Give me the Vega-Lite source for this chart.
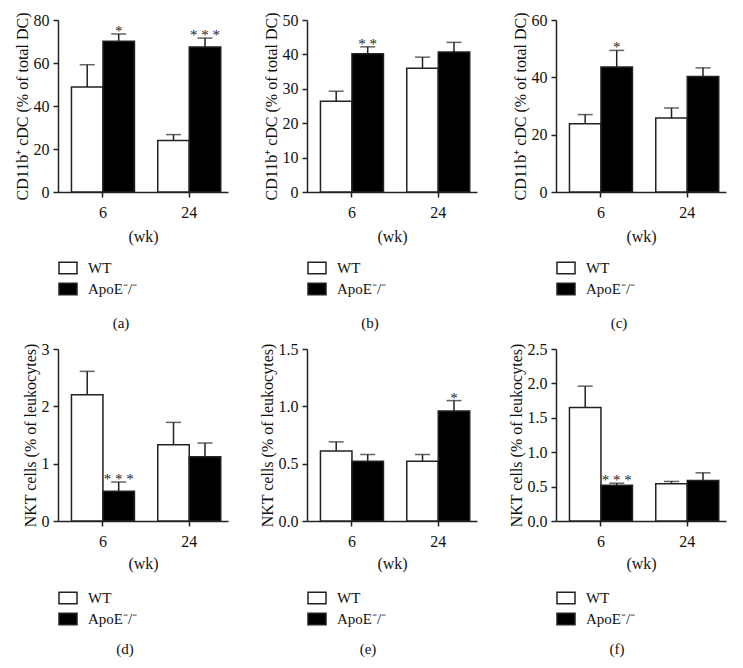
{
  "$schema": "https://vega.github.io/schema/vega-lite/v6.json",
  "padding": {"left": 14, "top": 12, "right": 5, "bottom": 5},
  "background": "white",
  "data": {"values": [
    {"panel": "a", "wk": "6", "group": "WT", "value": 48.8, "err": 59.2, "sig": ""},
    {"panel": "a", "wk": "6", "group": "ApoE⁻/⁻", "value": 70.1, "err": 73.5, "sig": "*"},
    {"panel": "a", "wk": "24", "group": "WT", "value": 24.0, "err": 26.7, "sig": ""},
    {"panel": "a", "wk": "24", "group": "ApoE⁻/⁻", "value": 67.4, "err": 71.6, "sig": "* * *"},
    {"panel": "b", "wk": "6", "group": "WT", "value": 26.4, "err": 29.3, "sig": ""},
    {"panel": "b", "wk": "6", "group": "ApoE⁻/⁻", "value": 40.2, "err": 42.2, "sig": "* *"},
    {"panel": "b", "wk": "24", "group": "WT", "value": 36.0, "err": 39.2, "sig": ""},
    {"panel": "b", "wk": "24", "group": "ApoE⁻/⁻", "value": 40.7, "err": 43.5, "sig": ""},
    {"panel": "c", "wk": "6", "group": "WT", "value": 23.8, "err": 27.0, "sig": ""},
    {"panel": "c", "wk": "6", "group": "ApoE⁻/⁻", "value": 43.6, "err": 49.4, "sig": "*"},
    {"panel": "c", "wk": "24", "group": "WT", "value": 25.8, "err": 29.3, "sig": ""},
    {"panel": "c", "wk": "24", "group": "ApoE⁻/⁻", "value": 40.3, "err": 43.3, "sig": ""},
    {"panel": "d", "wk": "6", "group": "WT", "value": 2.20, "err": 2.61, "sig": ""},
    {"panel": "d", "wk": "6", "group": "ApoE⁻/⁻", "value": 0.52, "err": 0.68, "sig": "* * *"},
    {"panel": "d", "wk": "24", "group": "WT", "value": 1.33, "err": 1.72, "sig": ""},
    {"panel": "d", "wk": "24", "group": "ApoE⁻/⁻", "value": 1.12, "err": 1.36, "sig": ""},
    {"panel": "e", "wk": "6", "group": "WT", "value": 0.61, "err": 0.69, "sig": ""},
    {"panel": "e", "wk": "6", "group": "ApoE⁻/⁻", "value": 0.52, "err": 0.58, "sig": ""},
    {"panel": "e", "wk": "24", "group": "WT", "value": 0.52, "err": 0.58, "sig": ""},
    {"panel": "e", "wk": "24", "group": "ApoE⁻/⁻", "value": 0.96, "err": 1.05, "sig": "*"},
    {"panel": "f", "wk": "6", "group": "WT", "value": 1.65, "err": 1.96, "sig": ""},
    {"panel": "f", "wk": "6", "group": "ApoE⁻/⁻", "value": 0.52, "err": 0.55, "sig": "* * *"},
    {"panel": "f", "wk": "24", "group": "WT", "value": 0.54, "err": 0.575, "sig": ""},
    {"panel": "f", "wk": "24", "group": "ApoE⁻/⁻", "value": 0.59, "err": 0.70, "sig": ""}
  ]},
  "bounds": "flush",
  "columns": 3,
  "spacing": {"row": 157, "column": 79},
  "resolve": {"scale": {"fill": "independent"}, "legend": {"fill": "independent"}},
  "concat": [
    {
      "width": 170, "height": 172,
      "transform": [{"filter": "datum.panel === 'a'"}],
      "title": {"text": "(a)"},
      "encoding": {
        "x": {"field": "wk", "type": "nominal", "sort": ["6", "24"], "scale": {"paddingInner": 0.27, "paddingOuter": 0.12, "align": 0.65}, "axis": {"title": "(wk)"}},
        "xOffset": {"field": "group", "type": "nominal", "sort": ["WT", "ApoE⁻/⁻"], "scale": {"paddingInner": 0, "paddingOuter": 0}}
      },
      "layer": [
        {"mark": {"type": "bar", "stroke": "#222", "strokeWidth": 1.5, "opacity": 1},
         "encoding": {
           "y": {"field": "value", "type": "quantitative", "scale": {"domain": [0, 80], "nice": false}, "axis": {"values": [0, 20, 40, 60, 80]}, "title": "CD11b⁺ cDC (% of total DC)"},
           "fill": {"field": "group", "type": "nominal", "scale": {"domain": ["WT", "ApoE⁻/⁻"], "range": ["#ffffff", "#000000"]}, "legend": {"orient": "none", "legendX": 0, "legendY": 238}}
         }},
        {"mark": {"type": "rule", "color": "#222", "strokeWidth": 1.5},
         "encoding": {"y": {"field": "value", "type": "quantitative", "axis": {"values": [0, 20, 40, 60, 80]}, "title": "CD11b⁺ cDC (% of total DC)"}, "y2": {"field": "err"}}},
        {"mark": {"type": "tick", "size": 15, "thickness": 1.5, "color": "#222"},
         "encoding": {"y": {"field": "err", "type": "quantitative", "axis": {"values": [0, 20, 40, 60, 80]}, "title": "CD11b⁺ cDC (% of total DC)"}}},
        {"transform": [{"filter": "datum.sig !== ''"}],
         "mark": {"type": "text", "baseline": "alphabetic", "dy": 2, "fontSize": 15, "font": "Liberation Serif", "color": "#222"},
         "encoding": {"y": {"field": "err", "type": "quantitative", "axis": {"values": [0, 20, 40, 60, 80]}, "title": "CD11b⁺ cDC (% of total DC)"}, "text": {"field": "sig"}}}
      ]
    },
    {
      "width": 170, "height": 172,
      "transform": [{"filter": "datum.panel === 'b'"}],
      "title": {"text": "(b)"},
      "encoding": {
        "x": {"field": "wk", "type": "nominal", "sort": ["6", "24"], "scale": {"paddingInner": 0.27, "paddingOuter": 0.12, "align": 0.65}, "axis": {"title": "(wk)"}},
        "xOffset": {"field": "group", "type": "nominal", "sort": ["WT", "ApoE⁻/⁻"], "scale": {"paddingInner": 0, "paddingOuter": 0}}
      },
      "layer": [
        {"mark": {"type": "bar", "stroke": "#222", "strokeWidth": 1.5, "opacity": 1},
         "encoding": {
           "y": {"field": "value", "type": "quantitative", "scale": {"domain": [0, 50], "nice": false}, "axis": {"values": [0, 10, 20, 30, 40, 50]}, "title": "CD11b⁺ cDC (% of total DC)"},
           "fill": {"field": "group", "type": "nominal", "scale": {"domain": ["WT", "ApoE⁻/⁻"], "range": ["#ffffff", "#000000"]}, "legend": {"orient": "none", "legendX": 0, "legendY": 238}}
         }},
        {"mark": {"type": "rule", "color": "#222", "strokeWidth": 1.5},
         "encoding": {"y": {"field": "value", "type": "quantitative", "axis": {"values": [0, 10, 20, 30, 40, 50]}, "title": "CD11b⁺ cDC (% of total DC)"}, "y2": {"field": "err"}}},
        {"mark": {"type": "tick", "size": 15, "thickness": 1.5, "color": "#222"},
         "encoding": {"y": {"field": "err", "type": "quantitative", "axis": {"values": [0, 10, 20, 30, 40, 50]}, "title": "CD11b⁺ cDC (% of total DC)"}}},
        {"transform": [{"filter": "datum.sig !== ''"}],
         "mark": {"type": "text", "baseline": "alphabetic", "dy": 2, "fontSize": 15, "font": "Liberation Serif", "color": "#222"},
         "encoding": {"y": {"field": "err", "type": "quantitative", "axis": {"values": [0, 10, 20, 30, 40, 50]}, "title": "CD11b⁺ cDC (% of total DC)"}, "text": {"field": "sig"}}}
      ]
    },
    {
      "width": 170, "height": 172,
      "transform": [{"filter": "datum.panel === 'c'"}],
      "title": {"text": "(c)"},
      "encoding": {
        "x": {"field": "wk", "type": "nominal", "sort": ["6", "24"], "scale": {"paddingInner": 0.27, "paddingOuter": 0.12, "align": 0.65}, "axis": {"title": "(wk)"}},
        "xOffset": {"field": "group", "type": "nominal", "sort": ["WT", "ApoE⁻/⁻"], "scale": {"paddingInner": 0, "paddingOuter": 0}}
      },
      "layer": [
        {"mark": {"type": "bar", "stroke": "#222", "strokeWidth": 1.5, "opacity": 1},
         "encoding": {
           "y": {"field": "value", "type": "quantitative", "scale": {"domain": [0, 60], "nice": false}, "axis": {"values": [0, 20, 40, 60]}, "title": "CD11b⁺ cDC (% of total DC)"},
           "fill": {"field": "group", "type": "nominal", "scale": {"domain": ["WT", "ApoE⁻/⁻"], "range": ["#ffffff", "#000000"]}, "legend": {"orient": "none", "legendX": 0, "legendY": 238}}
         }},
        {"mark": {"type": "rule", "color": "#222", "strokeWidth": 1.5},
         "encoding": {"y": {"field": "value", "type": "quantitative", "axis": {"values": [0, 20, 40, 60]}, "title": "CD11b⁺ cDC (% of total DC)"}, "y2": {"field": "err"}}},
        {"mark": {"type": "tick", "size": 15, "thickness": 1.5, "color": "#222"},
         "encoding": {"y": {"field": "err", "type": "quantitative", "axis": {"values": [0, 20, 40, 60]}, "title": "CD11b⁺ cDC (% of total DC)"}}},
        {"transform": [{"filter": "datum.sig !== ''"}],
         "mark": {"type": "text", "baseline": "alphabetic", "dy": 2, "fontSize": 15, "font": "Liberation Serif", "color": "#222"},
         "encoding": {"y": {"field": "err", "type": "quantitative", "axis": {"values": [0, 20, 40, 60]}, "title": "CD11b⁺ cDC (% of total DC)"}, "text": {"field": "sig"}}}
      ]
    },
    {
      "width": 170, "height": 172,
      "transform": [{"filter": "datum.panel === 'd'"}],
      "title": {"text": "(d)", "offset": 14},
      "encoding": {
        "x": {"field": "wk", "type": "nominal", "sort": ["6", "24"], "scale": {"paddingInner": 0.27, "paddingOuter": 0.12, "align": 0.65}, "axis": {"title": "(wk)", "titlePadding": 6}},
        "xOffset": {"field": "group", "type": "nominal", "sort": ["WT", "ApoE⁻/⁻"], "scale": {"paddingInner": 0, "paddingOuter": 0}}
      },
      "layer": [
        {"mark": {"type": "bar", "stroke": "#222", "strokeWidth": 1.5, "opacity": 1},
         "encoding": {
           "y": {"field": "value", "type": "quantitative", "scale": {"domain": [0, 3], "nice": false}, "axis": {"values": [0, 1, 2, 3], "format": "d"}, "title": "NKT cells (% of leukocytes)"},
           "fill": {"field": "group", "type": "nominal", "scale": {"domain": ["WT", "ApoE⁻/⁻"], "range": ["#ffffff", "#000000"]}, "legend": {"orient": "none", "legendX": 0, "legendY": 239}}
         }},
        {"mark": {"type": "rule", "color": "#222", "strokeWidth": 1.5},
         "encoding": {"y": {"field": "value", "type": "quantitative", "axis": {"values": [0, 1, 2, 3], "format": "d"}, "title": "NKT cells (% of leukocytes)"}, "y2": {"field": "err"}}},
        {"mark": {"type": "tick", "size": 15, "thickness": 1.5, "color": "#222"},
         "encoding": {"y": {"field": "err", "type": "quantitative", "axis": {"values": [0, 1, 2, 3], "format": "d"}, "title": "NKT cells (% of leukocytes)"}}},
        {"transform": [{"filter": "datum.sig !== ''"}],
         "mark": {"type": "text", "baseline": "alphabetic", "dy": 2, "fontSize": 15, "font": "Liberation Serif", "color": "#222"},
         "encoding": {"y": {"field": "err", "type": "quantitative", "axis": {"values": [0, 1, 2, 3], "format": "d"}, "title": "NKT cells (% of leukocytes)"}, "text": {"field": "sig"}}}
      ]
    },
    {
      "width": 170, "height": 172,
      "transform": [{"filter": "datum.panel === 'e'"}],
      "title": {"text": "(e)", "offset": 14},
      "encoding": {
        "x": {"field": "wk", "type": "nominal", "sort": ["6", "24"], "scale": {"paddingInner": 0.27, "paddingOuter": 0.12, "align": 0.65}, "axis": {"title": "(wk)", "titlePadding": 6}},
        "xOffset": {"field": "group", "type": "nominal", "sort": ["WT", "ApoE⁻/⁻"], "scale": {"paddingInner": 0, "paddingOuter": 0}}
      },
      "layer": [
        {"mark": {"type": "bar", "stroke": "#222", "strokeWidth": 1.5, "opacity": 1},
         "encoding": {
           "y": {"field": "value", "type": "quantitative", "scale": {"domain": [0, 1.5], "nice": false}, "axis": {"values": [0, 0.5, 1, 1.5], "format": ".1f"}, "title": "NKT cells (% of leukocytes)"},
           "fill": {"field": "group", "type": "nominal", "scale": {"domain": ["WT", "ApoE⁻/⁻"], "range": ["#ffffff", "#000000"]}, "legend": {"orient": "none", "legendX": 0, "legendY": 239}}
         }},
        {"mark": {"type": "rule", "color": "#222", "strokeWidth": 1.5},
         "encoding": {"y": {"field": "value", "type": "quantitative", "axis": {"values": [0, 0.5, 1, 1.5], "format": ".1f"}, "title": "NKT cells (% of leukocytes)"}, "y2": {"field": "err"}}},
        {"mark": {"type": "tick", "size": 15, "thickness": 1.5, "color": "#222"},
         "encoding": {"y": {"field": "err", "type": "quantitative", "axis": {"values": [0, 0.5, 1, 1.5], "format": ".1f"}, "title": "NKT cells (% of leukocytes)"}}},
        {"transform": [{"filter": "datum.sig !== ''"}],
         "mark": {"type": "text", "baseline": "alphabetic", "dy": 2, "fontSize": 15, "font": "Liberation Serif", "color": "#222"},
         "encoding": {"y": {"field": "err", "type": "quantitative", "axis": {"values": [0, 0.5, 1, 1.5], "format": ".1f"}, "title": "NKT cells (% of leukocytes)"}, "text": {"field": "sig"}}}
      ]
    },
    {
      "width": 170, "height": 172,
      "transform": [{"filter": "datum.panel === 'f'"}],
      "title": {"text": "(f)", "offset": 14},
      "encoding": {
        "x": {"field": "wk", "type": "nominal", "sort": ["6", "24"], "scale": {"paddingInner": 0.27, "paddingOuter": 0.12, "align": 0.65}, "axis": {"title": "(wk)", "titlePadding": 6}},
        "xOffset": {"field": "group", "type": "nominal", "sort": ["WT", "ApoE⁻/⁻"], "scale": {"paddingInner": 0, "paddingOuter": 0}}
      },
      "layer": [
        {"mark": {"type": "bar", "stroke": "#222", "strokeWidth": 1.5, "opacity": 1},
         "encoding": {
           "y": {"field": "value", "type": "quantitative", "scale": {"domain": [0, 2.5], "nice": false}, "axis": {"values": [0, 0.5, 1, 1.5, 2, 2.5], "format": ".1f"}, "title": "NKT cells (% of leukocytes)"},
           "fill": {"field": "group", "type": "nominal", "scale": {"domain": ["WT", "ApoE⁻/⁻"], "range": ["#ffffff", "#000000"]}, "legend": {"orient": "none", "legendX": 0, "legendY": 239}}
         }},
        {"mark": {"type": "rule", "color": "#222", "strokeWidth": 1.5},
         "encoding": {"y": {"field": "value", "type": "quantitative", "axis": {"values": [0, 0.5, 1, 1.5, 2, 2.5], "format": ".1f"}, "title": "NKT cells (% of leukocytes)"}, "y2": {"field": "err"}}},
        {"mark": {"type": "tick", "size": 15, "thickness": 1.5, "color": "#222"},
         "encoding": {"y": {"field": "err", "type": "quantitative", "axis": {"values": [0, 0.5, 1, 1.5, 2, 2.5], "format": ".1f"}, "title": "NKT cells (% of leukocytes)"}}},
        {"transform": [{"filter": "datum.sig !== ''"}],
         "mark": {"type": "text", "baseline": "alphabetic", "dy": 2, "fontSize": 15, "font": "Liberation Serif", "color": "#222"},
         "encoding": {"y": {"field": "err", "type": "quantitative", "axis": {"values": [0, 0.5, 1, 1.5, 2, 2.5], "format": ".1f"}, "title": "NKT cells (% of leukocytes)"}, "text": {"field": "sig"}}}
      ]
    }
  ],
  "config": {
    "view": {"stroke": null},
    "font": "Liberation Serif",
    "axis": {"domainColor": "#222", "domainWidth": 1.5, "tickColor": "#222", "tickWidth": 1.5, "tickSize": 5, "labelFont": "Liberation Serif", "labelFontSize": 16, "labelColor": "#111", "titleFont": "Liberation Serif", "titleFontSize": 16, "titleFontWeight": "normal", "titleColor": "#111", "grid": false, "labelOverlap": false},
    "axisX": {"labelAngle": 0, "labelPadding": 7, "titlePadding": 8},
    "axisY": {"labelPadding": 4, "titlePadding": 3},
    "legend": {"title": null, "symbolType": "M-1,-0.65H1V0.65H-1Z", "symbolSize": 324, "symbolStrokeColor": "#222", "symbolStrokeWidth": 1.5, "symbolOpacity": 1, "labelFont": "Liberation Serif", "labelFontSize": 15, "labelColor": "#111", "labelOffset": 10, "rowPadding": 2, "padding": 0},
    "title": {"orient": "bottom", "anchor": "middle", "frame": "bounds", "font": "Liberation Serif", "fontSize": 15, "fontWeight": "normal", "color": "#111", "offset": 18}
  }
}
